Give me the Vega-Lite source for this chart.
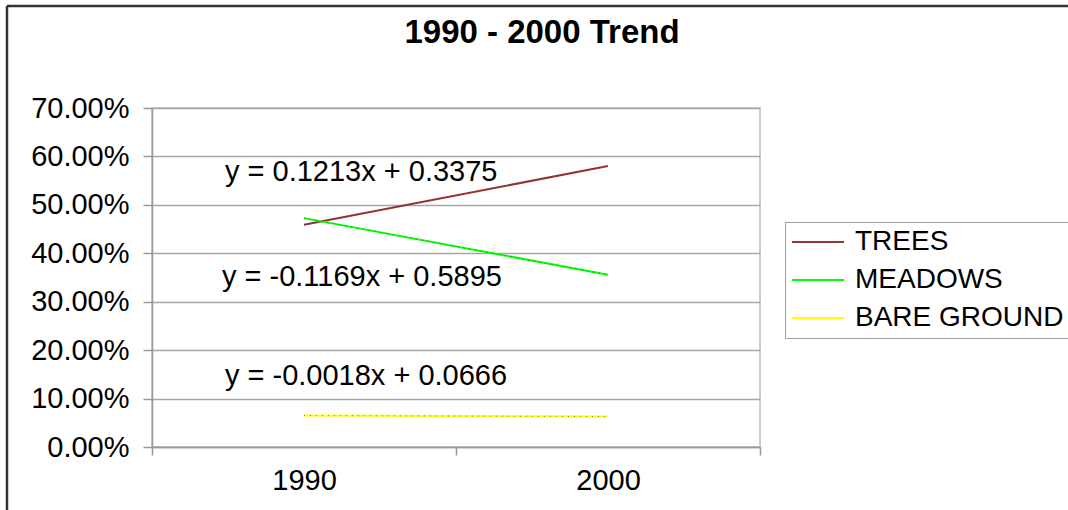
{
  "$schema": "https://vega.github.io/schema/vega-lite/v6.json",
  "autosize": "none",
  "width": 608,
  "height": 339,
  "padding": {"left": 152, "top": 108, "right": 308, "bottom": 63},
  "background": "white",
  "title": {
    "text": "1990 - 2000 Trend",
    "font": "Liberation Sans",
    "fontSize": 33,
    "fontWeight": "bold",
    "color": "black",
    "anchor": "middle",
    "frame": "group",
    "dx": 86,
    "offset": -45
  },
  "config": {
    "view": {"stroke": "#BFBFBF", "strokeWidth": 1.5},
    "font": "Liberation Sans"
  },
  "datasets": {
    "series": [
      {"year": 1990, "cover": "TREES", "share": 0.4588},
      {"year": 2000, "cover": "TREES", "share": 0.5801},
      {"year": 1990, "cover": "MEADOWS", "share": 0.4726},
      {"year": 2000, "cover": "MEADOWS", "share": 0.3557},
      {"year": 1990, "cover": "BARE GROUND", "share": 0.0648},
      {"year": 2000, "cover": "BARE GROUND", "share": 0.0630}
    ],
    "equations": [
      {"year": 1987.4, "share": 0.568, "label": "y = 0.1213x + 0.3375"},
      {"year": 1987.3, "share": 0.351, "label": "y = -0.1169x + 0.5895"},
      {"year": 1987.4, "share": 0.147, "label": "y = -0.0018x + 0.0666"}
    ]
  },
  "layer": [
    {
      "data": {"values": [{}]},
      "mark": {"type": "rule", "color": "#333333", "strokeWidth": 2.5, "clip": false},
      "encoding": {
        "x": {"datum": 1980.23, "type": "quantitative"},
        "y": {"datum": 0.9106, "type": "quantitative"},
        "y2": {"datum": -0.14}
      }
    },
    {
      "data": {"values": [{}]},
      "mark": {"type": "rule", "color": "#333333", "strokeWidth": 2.5, "clip": false},
      "encoding": {
        "x": {"datum": 1980.23, "type": "quantitative"},
        "x2": {"datum": 2015.3},
        "y": {"datum": 0.9106, "type": "quantitative"}
      }
    },
    {
      "data": {"name": "series"},
      "mark": {"type": "line", "strokeWidth": 2},
      "encoding": {
        "x": {
          "field": "year",
          "type": "quantitative",
          "scale": {"domain": [1985, 2005], "nice": false, "zero": false},
          "axis": {
            "title": null,
            "values": [1985, 1990, 1995, 2000, 2005],
            "format": "d",
            "labelExpr": "(datum.value == 1990 || datum.value == 2000) ? datum.label : ''",
            "labelOverlap": false,
            "labelFlush": false,
            "labelFont": "Liberation Sans",
            "labelFontSize": 29,
            "labelColor": "black",
            "labelPadding": 11,
            "tickSize": 8,
            "tickColor": "#999999",
            "tickWidth": 1.5,
            "tickOpacity": {"condition": {"test": "datum.value == 1990 || datum.value == 2000", "value": 0}, "value": 1},
            "domainColor": "#999999",
            "domainWidth": 1.5,
            "grid": false
          }
        },
        "y": {
          "field": "share",
          "type": "quantitative",
          "scale": {"domain": [0, 0.7], "nice": false},
          "axis": {
            "title": null,
            "values": [0, 0.1, 0.2, 0.3, 0.4, 0.5, 0.6, 0.7],
            "format": ".2%",
            "labelFont": "Liberation Sans",
            "labelFontSize": 29,
            "labelColor": "black",
            "labelPadding": 14,
            "tickSize": 9,
            "tickColor": "#999999",
            "tickWidth": 1.5,
            "domainColor": "#999999",
            "domainWidth": 1.5,
            "grid": true,
            "gridColor": "#A6A6A6",
            "gridWidth": 1.5
          }
        },
        "color": {
          "field": "cover",
          "type": "nominal",
          "scale": {"domain": ["TREES", "MEADOWS", "BARE GROUND"], "range": ["#993333", "#00FF00", "#FFFF00"]},
          "legend": {
            "title": null,
            "orient": "none",
            "legendX": 633,
            "legendY": 114,
            "symbolType": "stroke",
            "symbolSize": 2704,
            "symbolStrokeWidth": 2,
            "clipHeight": 28,
            "rowPadding": 10,
            "labelOffset": 10,
            "labelLimit": 400,
            "labelFont": "Liberation Sans",
            "labelFontSize": 28,
            "labelColor": "black",
            "padding": 6,
            "strokeColor": "#A0A0A0",
            "fillColor": "white"
          }
        }
      }
    },
    {
      "data": {"name": "series"},
      "mark": {"type": "line", "strokeWidth": 1, "color": "#333333", "strokeDash": [1, 5], "opacity": 0.6},
      "encoding": {
        "x": {"field": "year", "type": "quantitative"},
        "y": {"field": "share", "type": "quantitative"},
        "detail": {"field": "cover", "type": "nominal"}
      }
    },
    {
      "data": {"name": "equations"},
      "mark": {"type": "text", "align": "left", "baseline": "middle", "font": "Liberation Sans", "fontSize": 29, "color": "black"},
      "encoding": {
        "x": {"field": "year", "type": "quantitative"},
        "y": {"field": "share", "type": "quantitative"},
        "text": {"field": "label", "type": "nominal"}
      }
    }
  ]
}
